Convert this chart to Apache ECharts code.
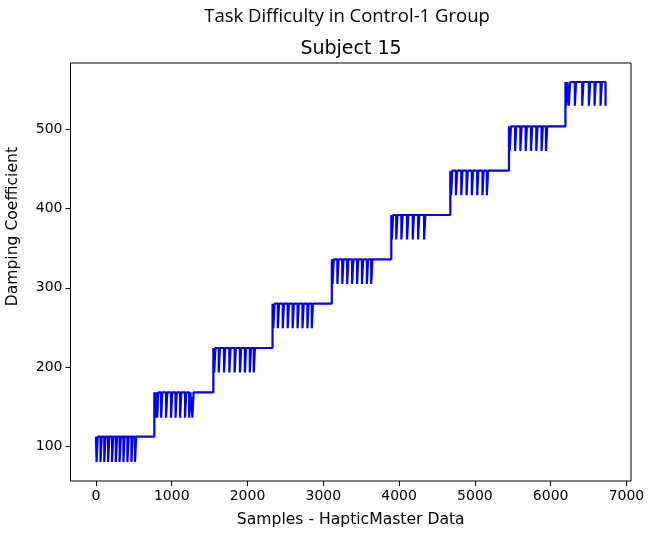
<!DOCTYPE html>
<html>
<head>
<meta charset="utf-8">
<script src="https://cdn.jsdelivr.net/npm/echarts@6/dist/echarts.min.js"></script>
<style>
html,body{margin:0;padding:0;background:#fff;}
#chart{width:650px;height:534px;}
</style>
</head>
<body>
<div id="chart"></div>
<script>
const suptitle = "Task Difficulty in Control-1 Group";
const title = "Subject 15";
const xLabel = "Samples - HapticMaster Data";
const yLabel = "Damping Coefficient";
const xTicks = [0, 1000, 2000, 3000, 4000, 5000, 6000, 7000];
const yTicks = [100, 200, 300, 400, 500];

// step levels (start sample, high value, low value of dips)
const levelStarts = [0, 770, 1549, 2330, 3112, 3897, 4676, 5450, 6195];
const levels = [112, 168, 224, 280, 336, 392, 448, 504, 560];
const lows = [80, 136, 193, 249, 305, 361, 417, 473, 530];
// sample positions where the value dips to the low value
const dips = [
  [8, 60, 110, 160, 212, 262, 312, 362, 415, 468, 515],
  [778, 808, 860, 925, 990, 1050, 1110, 1175, 1230, 1272],
  [1560, 1620, 1690, 1760, 1830, 1900, 1965, 2030, 2082],
  [2340, 2400, 2465, 2530, 2595, 2660, 2725, 2790, 2848],
  [3122, 3185, 3250, 3315, 3380, 3445, 3510, 3575, 3632],
  [3905, 3962, 4030, 4105, 4180, 4250, 4330],
  [4686, 4750, 4820, 4890, 4960, 5030, 5100, 5158],
  [5460, 5530, 5600, 5670, 5740, 5810, 5880, 5938],
  [6205, 6240, 6319, 6416, 6504, 6579, 6658, 6724]
];
const dipDuration = 16;

const pts = [];
for (let g = 0; g < levels.length; g++) {
  if (g > 0) pts.push([levelStarts[g], levels[g - 1]]);
  pts.push([levelStarts[g], levels[g]]);
  const d = dips[g];
  for (let i = 0; i < d.length; i++) {
    const last = (g === levels.length - 1 && i === d.length - 1);
    pts.push([d[i], levels[g]]);
    pts.push([d[i], lows[g]]);
    if (last) break;
    pts.push([d[i] + dipDuration, lows[g]]);
    pts.push([d[i] + dipDuration, levels[g]]);
  }
}

const chart = echarts.init(document.getElementById('chart'), null, {renderer: 'canvas'});
const font = 'DejaVu Sans';
chart.setOption({
  animation: false,
  backgroundColor: '#ffffff',
  title: [
    {text: suptitle, left: 342, top: 2, textAlign: 'center',
     textStyle: {fontFamily: 'Open Sans', fontSize: 18.5, fontWeight: 'normal', color: '#000'}},
    {text: title, left: 346, top: 35, textAlign: 'center',
     textStyle: {fontFamily: font, fontSize: 19, fontWeight: 'normal', color: '#000'}}
  ],
  graphic: [{
    type: 'text', left: 5, top: 147, rotation: Math.PI / 2,
    style: {text: yLabel, fontFamily: font, fontSize: 15.6, fill: '#000'}
  }],
  grid: {left: 70.5, right: 19, top: 63, bottom: 53, show: true, borderColor: '#000', borderWidth: 1, backgroundColor: 'transparent'},
  xAxis: {
    type: 'value', min: -336, max: 7060,
    name: xLabel, nameLocation: 'middle', nameGap: 31,
    nameTextStyle: {fontFamily: font, fontSize: 15.6, color: '#000', verticalAlign: 'top'},
    axisLine: {show: false, onZero: false},
    axisTick: {show: true, customValues: xTicks, length: 5, lineStyle: {color: '#000'}},
    axisLabel: {customValues: xTicks, margin: 8, fontFamily: font, fontSize: 14, color: '#000', formatter: v => String(v)},
    splitLine: {show: false}
  },
  yAxis: {
    type: 'value', min: 56, max: 584,
    axisLine: {show: false, onZero: false},
    axisTick: {show: true, customValues: yTicks, length: 5, lineStyle: {color: '#000'}},
    axisLabel: {customValues: yTicks, margin: 8, fontFamily: font, fontSize: 14, color: '#000', formatter: v => String(v)},
    splitLine: {show: false}
  },
  series: [{
    type: 'line', data: pts, showSymbol: false, symbol: 'none',
    lineStyle: {color: '#0000ff', width: 2.2},
    clip: true
  }]
});
</script>
</body>
</html>
